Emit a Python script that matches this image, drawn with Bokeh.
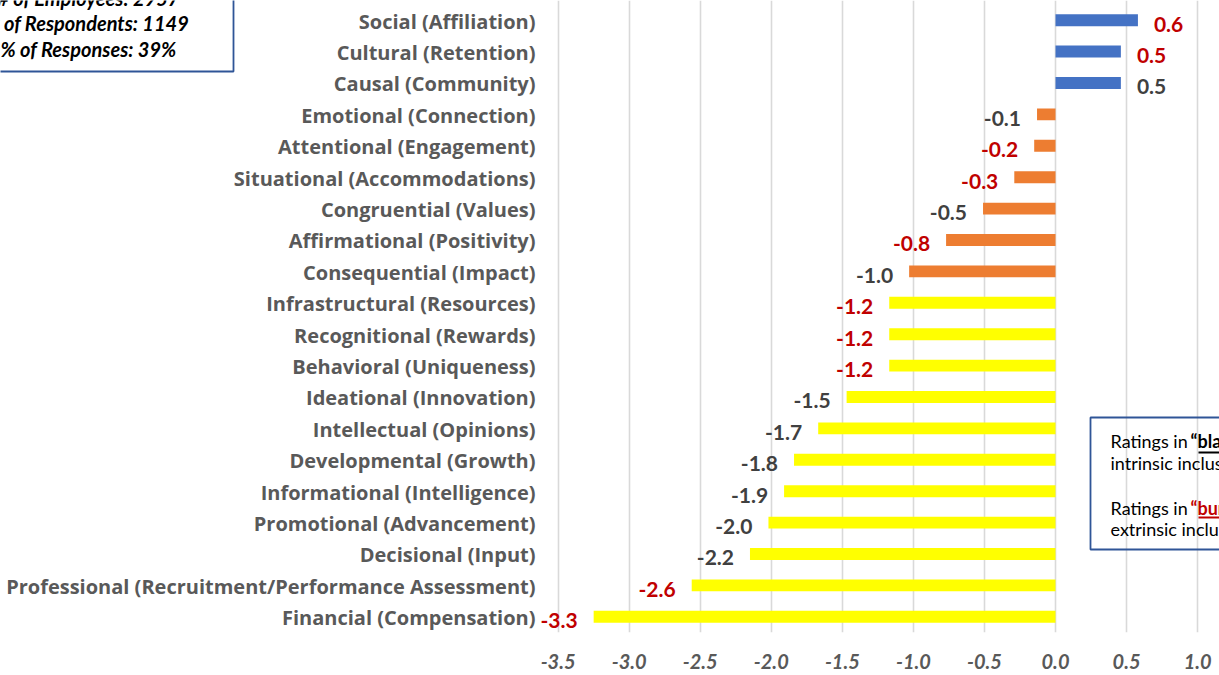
from bokeh.plotting import figure
from bokeh.models import FixedTicker, BoxAnnotation, Label, ColumnDataSource, Range1d
from bokeh.core.properties import value
from bokeh.embed import file_html
from bokeh.resources import INLINE

# ---------------- data (top to bottom) ----------------
categories = [
    "Social (Affiliation)",
    "Cultural (Retention)",
    "Causal (Community)",
    "Emotional (Connection)",
    "Attentional (Engagement)",
    "Situational (Accommodations)",
    "Congruential (Values)",
    "Affirmational (Positivity)",
    "Consequential (Impact)",
    "Infrastructural (Resources)",
    "Recognitional (Rewards)",
    "Behavioral (Uniqueness)",
    "Ideational (Innovation)",
    "Intellectual (Opinions)",
    "Developmental (Growth)",
    "Informational (Intelligence)",
    "Promotional (Advancement)",
    "Decisional (Input)",
    "Professional (Recruitment/Performance Assessment)",
    "Financial (Compensation)",
]
values = [0.58, 0.46, 0.46, -0.13, -0.15, -0.29, -0.51, -0.77, -1.03, -1.17,
          -1.17, -1.17, -1.47, -1.67, -1.84, -1.91, -2.02, -2.15, -2.56, -3.25]
value_labels = ["0.6", "0.5", "0.5", "-0.1", "-0.2", "-0.3", "-0.5", "-0.8", "-1.0", "-1.2",
                "-1.2", "-1.2", "-1.5", "-1.7", "-1.8", "-1.9", "-2.0", "-2.2", "-2.6", "-3.3"]
rating_kind = ["extrinsic", "extrinsic", "intrinsic", "intrinsic", "extrinsic", "extrinsic",
               "intrinsic", "extrinsic", "intrinsic", "extrinsic", "extrinsic", "extrinsic",
               "intrinsic", "intrinsic", "intrinsic", "intrinsic", "intrinsic", "intrinsic",
               "extrinsic", "extrinsic"]
bar_tier = ["top", "top", "top",
            "middle", "middle", "middle", "middle", "middle", "middle",
            "bottom", "bottom", "bottom", "bottom", "bottom", "bottom", "bottom",
            "bottom", "bottom", "bottom", "bottom"]
x_ticks = [-3.5, -3.0, -2.5, -2.0, -1.5, -1.0, -0.5, 0.0, 0.5, 1.0]
x_tick_labels = ["-3.5", "-3.0", "-2.5", "-2.0", "-1.5", "-1.0", "-0.5", "0.0", "0.5", "1.0"]
info_lines = ["# of Employees: 2957", "# of Respondents: 1149", "% of Responses: 39%"]

tier_colors = {"top": "#4472C4", "middle": "#ED7D31", "bottom": "#FFFF00"}
kind_colors = {"extrinsic": "#C00000", "intrinsic": "#404040"}

FONT = "Lato"
CAT_FONT = "Open Sans"
BOX_BLUE = "#2F5597"

# ---------------- geometry (pixels of the 1219x675 picture) ----------------
W, H = 1219, 675
F_LEFT, F_RIGHT, F_TOP, F_BOTTOM = 0, W, 0, 632
X0, X1 = -7.424, 1.154
Y0, Y1 = 0.5, 20.627


def xpx(px):
    """picture pixel x -> data x"""
    return X0 + (px - F_LEFT) / (F_RIGHT - F_LEFT) * (X1 - X0)


def ypx(py):
    """picture pixel y -> data y"""
    return Y1 - (py - F_TOP) / (F_BOTTOM - F_TOP) * (Y1 - Y0)


n = len(categories)
ypos = [n - i for i in range(n)]

p = figure(width=W, height=H, output_backend="svg", toolbar_location=None,
           x_range=Range1d(X0, X1), y_range=Range1d(Y0, Y1),
           y_axis_location=None,
           min_border_left=0, min_border_right=0, min_border_top=0,
           min_border_bottom=H - F_BOTTOM)
p.outline_line_color = None
p.background_fill_color = "white"
p.border_fill_color = "white"

# grid / x axis
p.ygrid.grid_line_color = None
p.xgrid.grid_line_color = "#D9D9D9"
p.xgrid.grid_line_width = 1.6
p.xaxis.ticker = FixedTicker(ticks=x_ticks)
p.xaxis.major_label_overrides = {t: l for t, l in zip(x_ticks, x_tick_labels)}
p.xaxis.axis_line_color = None
p.xaxis.major_tick_line_color = None
p.xaxis.minor_tick_line_color = None
p.xaxis.major_tick_out = 0
p.xaxis.major_tick_in = 0
p.xaxis.minor_tick_out = 0
p.xaxis.major_label_text_font = FONT
p.xaxis.major_label_text_color = "#595959"
p.xaxis.major_label_text_font_style = "bold italic"
p.xaxis.major_label_text_font_size = "20px"
p.xaxis.major_label_standoff = 21

# bars
src = ColumnDataSource(dict(
    y=ypos, v=values, cat=categories,
    bc=[tier_colors[t] for t in bar_tier],
))
p.hbar(y="y", left=0, right="v", height=0.38, fill_color="bc", line_color=None, source=src)

# category labels (left of the value axis)
p.text(x=xpx(535), y="y", text="cat", source=src, text_align="right", text_baseline="middle",
       text_font=value(CAT_FONT), text_font_style="bold", text_font_size="20px",
       text_color="#595959", y_offset=1)

# value labels
pos = ColumnDataSource(dict(
    y=[y for y, v in zip(ypos, values) if v >= 0],
    v=[v for v in values if v >= 0],
    lab=[l for l, v in zip(value_labels, values) if v >= 0],
    tc=[kind_colors[k] for k, v in zip(rating_kind, values) if v >= 0]))
neg = ColumnDataSource(dict(
    y=[y for y, v in zip(ypos, values) if v < 0],
    v=[v for v in values if v < 0],
    lab=[l for l, v in zip(value_labels, values) if v < 0],
    tc=[kind_colors[k] for k, v in zip(rating_kind, values) if v < 0]))
common = dict(text="lab", text_color="tc", text_font=value(FONT), text_font_style="bold",
              text_font_size="21px", text_baseline="middle", y_offset=4)
p.text(x="v", y="y", source=pos, text_align="left", x_offset=16, **common)
p.text(x="v", y="y", source=neg, text_align="right", x_offset=-16, **common)

# top-left info box
p.add_layout(BoxAnnotation(left=xpx(-60), right=xpx(233), top=ypx(-40), bottom=ypx(71),
                           fill_alpha=0, line_color=BOX_BLUE, line_alpha=1, line_width=1.8,
                           level="overlay"))
for line, yy in zip(info_lines, [-3, 22, 48]):
    p.add_layout(Label(x=xpx(88), y=ypx(yy), text=line, text_align="center",
                       text_baseline="middle", text_font=FONT, text_font_style="bold italic",
                       text_font_size="20px", text_color="black"))

# right note box
p.add_layout(BoxAnnotation(left=xpx(1090), right=xpx(1400), top=ypx(417), bottom=ypx(549),
                           fill_alpha=0, line_color=BOX_BLUE, line_alpha=1, line_width=1.8,
                           level="overlay"))
note_parts = [
    ("Ratings in", 1110, 440, "normal", "black"),
    ("\u201cblack\u201d represent", 1190, 440, "bold", "black"),
    ("intrinsic inclusion factors", 1110, 462, "normal", "black"),
    ("Ratings in", 1110, 507, "normal", "black"),
    ("\u201cburgundy\u201d represent", 1190, 507, "bold", "#C00000"),
    ("extrinsic inclusion factors", 1110, 528, "normal", "black"),
]
for txt, xx, yy, st, col in note_parts:
    p.add_layout(Label(x=xpx(xx), y=ypx(yy), text=txt, text_align="left",
                       text_baseline="middle", text_font=FONT, text_font_style=st,
                       text_font_size="18px", text_color=col))
p.segment(x0=[xpx(1198), xpx(1198)], y0=[ypx(452), ypx(517)],
          x1=[xpx(1300), xpx(1300)], y1=[ypx(452), ypx(517)],
          line_color=["black", "#C00000"], line_width=2)

open("out.html", "w").write(file_html(p, INLINE))
